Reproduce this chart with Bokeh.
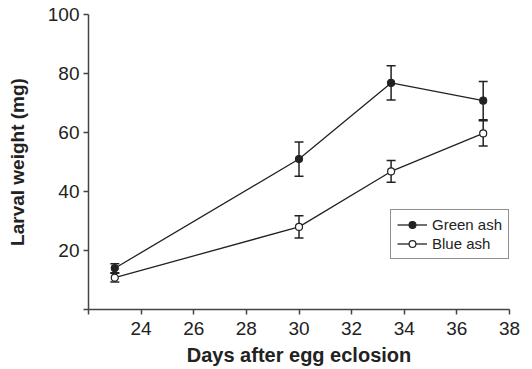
from bokeh.plotting import figure
from bokeh.models import (ColumnDataSource, Range1d, FixedTicker, Whisker, TeeHead,
                          Legend, LegendItem)
from bokeh.embed import file_html
from bokeh.resources import INLINE

# Data
days = [23, 30, 33.5, 37]
green_mean = [14.0, 51.0, 76.8, 70.8]
green_err = [1.5, 5.8, 5.8, 6.5]
blue_mean = [10.8, 28.0, 46.8, 59.7]
blue_err = [1.5, 3.8, 3.7, 4.3]
x_ticks = [22, 24, 26, 28, 30, 32, 34, 36, 38]
y_ticks = [0, 20, 40, 60, 80, 100]

FONT = "Liberation Sans"
INK = "#222222"

p = figure(width=532, height=369, output_backend="svg", toolbar_location=None,
           x_range=Range1d(22, 38), y_range=Range1d(0, 100),
           min_border_left=88, min_border_right=23, min_border_top=14, min_border_bottom=60)
p.outline_line_color = None
p.grid.visible = False
p.background_fill_color = "white"
p.border_fill_color = "white"

gsrc = ColumnDataSource(dict(x=days, y=green_mean,
                             lo=[m - e for m, e in zip(green_mean, green_err)],
                             hi=[m + e for m, e in zip(green_mean, green_err)]))
bsrc = ColumnDataSource(dict(x=days, y=blue_mean,
                             lo=[m - e for m, e in zip(blue_mean, blue_err)],
                             hi=[m + e for m, e in zip(blue_mean, blue_err)]))

gl = p.line("x", "y", source=gsrc, line_color=INK, line_width=1.3)
bl = p.line("x", "y", source=bsrc, line_color=INK, line_width=1.3)

for src in (gsrc, bsrc):
    w = Whisker(source=src, base="x", upper="hi", lower="lo",
                line_color=INK, line_width=1.5,
                upper_head=TeeHead(size=9, line_color=INK, line_width=1.5),
                lower_head=TeeHead(size=9, line_color=INK, line_width=1.5))
    p.add_layout(w)

gc = p.scatter("x", "y", source=gsrc, size=7, fill_color=INK, line_color=INK, line_width=1.2)
bc = p.scatter("x", "y", source=bsrc, size=7, fill_color="white", line_color=INK, line_width=1.2)

# Axes
for ax in (p.xaxis[0], p.yaxis[0]):
    ax.axis_line_color = "#444444"
    ax.axis_line_width = 1.5
    ax.major_tick_line_color = "#444444"
    ax.major_tick_line_width = 1.5
    ax.major_tick_out = 5
    ax.major_tick_in = 0
    ax.minor_tick_line_color = None
    ax.major_label_text_font = FONT
    ax.major_label_text_font_size = "19px"
    ax.major_label_text_color = "#222222"
    ax.axis_label_text_font = FONT
    ax.axis_label_text_font_style = "bold"
    ax.axis_label_text_color = "#222222"

p.xaxis.axis_label_text_font_size = "20px"
p.yaxis.axis_label_text_font_size = "19px"
p.xaxis.ticker = FixedTicker(ticks=x_ticks)
p.yaxis.ticker = FixedTicker(ticks=y_ticks)
p.xaxis.major_label_overrides = {22: ""}
p.yaxis.major_label_overrides = {0: ""}
p.xaxis.axis_label = "Days after egg eclosion"
p.yaxis.axis_label = "Larval weight (mg)"
p.xaxis.major_label_standoff = 7
p.yaxis.major_label_standoff = 4
p.xaxis.axis_label_standoff = 6
p.yaxis.axis_label_standoff = 17

legend = Legend(items=[LegendItem(label="Green ash", renderers=[gl, gc]),
                       LegendItem(label="Blue ash", renderers=[bl, bc])],
                location=(302, 50))
legend.border_line_color = "#222222"
legend.border_line_width = 1.2
legend.background_fill_color = "white"
legend.background_fill_alpha = 1
legend.label_text_font = FONT
legend.label_text_font_size = "15px"
legend.label_text_color = "#222222"
legend.glyph_width = 30
legend.glyph_height = 17
legend.label_height = 17
legend.label_standoff = 5
legend.padding = 6
legend.spacing = 2
legend.margin = 0
p.add_layout(legend)

open("out.html", "w").write(file_html(p, INLINE))
